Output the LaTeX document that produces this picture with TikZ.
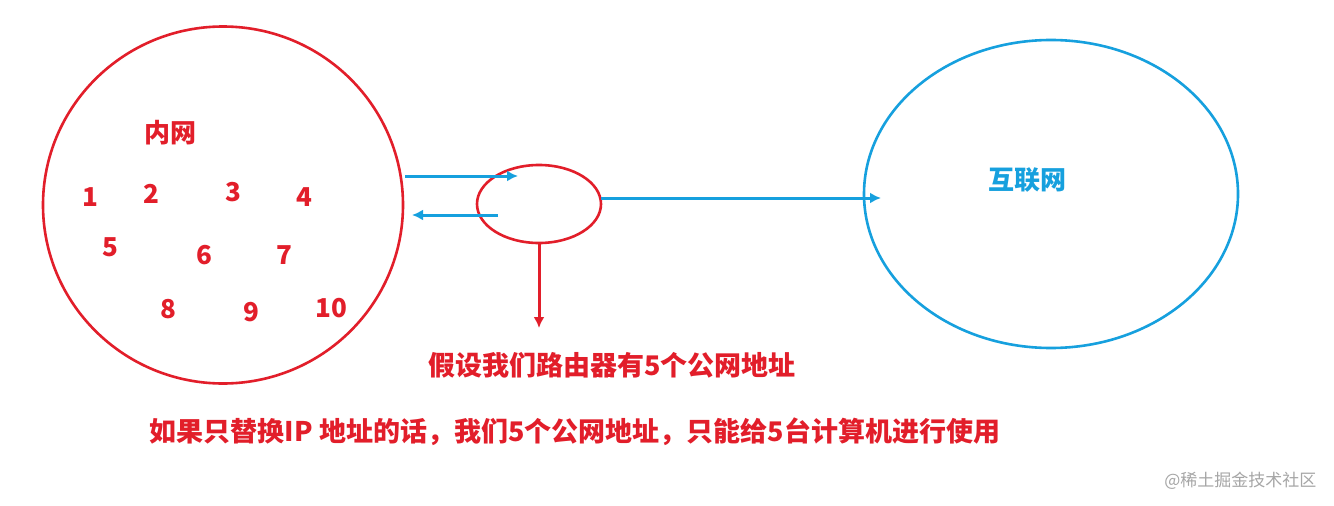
\documentclass[tikz,border=0pt]{standalone}
\usepackage{fontspec}
\setmainfont{Noto Sans CJK SC}
\usepackage{tikz}
\usetikzlibrary{shapes.geometric,arrows.meta}

\definecolor{netred}{RGB}{226,30,42}
\definecolor{netblue}{RGB}{22,160,222}

\tikzset{
  redring/.style={draw=netred, line width=2.6pt, ellipse, inner sep=0pt},
  bluering/.style={draw=netblue, line width=2.6pt, ellipse, inner sep=0pt},
  bluearrow/.style={draw=netblue, line width=3pt, -{Latex[length=11pt,width=11pt]}},
  redarrow/.style={draw=netred, line width=3pt, -{Latex[length=11pt,width=11pt]}},
  num/.style={text=netred, font=\fontsize{26}{30}\selectfont\bfseries},
  note/.style={text=netred, font=\fontsize{27}{32}\selectfont\bfseries},
}

\begin{document}
\begin{tikzpicture}[x=1pt,y=-1pt]
    \useasboundingbox[fill=white] (0,0) rectangle (1334,506);
    % rings
    \node[redring, minimum width=360pt, minimum height=357pt] (lan) at (223,205) {};
    \node[redring, minimum width=124pt, minimum height=78pt] (router) at (539,204) {};
    \node[bluering, minimum width=374pt, minimum height=308pt] (wan) at (1051,194) {};
    % labels inside
    \node[num] (lanlabel) at (170,133) {内网};
    \node[num, text=netblue] (wanlabel) at (1027,180) {互联网};
    \node[num] (pc1) at (90,197) {1};
    \node[num] (pc2) at (151,194) {2};
    \node[num] (pc3) at (233,192) {3};
    \node[num] (pc4) at (304,197) {4};
    \node[num] (pc5) at (110,247) {5};
    \node[num] (pc6) at (204,255) {6};
    \node[num] (pc7) at (284,255) {7};
    \node[num] (pc8) at (168,309) {8};
    \node[num] (pc9) at (251,312) {9};
    \node[num] (pc10) at (331,308) {10};
    % connectors
    \coordinate (goout) at (405,176);
    \coordinate (goin) at (518,176);
    \coordinate (backfrom) at (498,215);
    \coordinate (backto) at (412,215);
    \coordinate (routerright) at (601,198);
    \coordinate (wanleft) at (881,198);
    \coordinate (downtip) at (539,328);
    \draw[bluearrow] (goout) -- (goin);
    \draw[bluearrow] (backfrom) -- (backto);
    \draw[bluearrow] (routerright) -- (wanleft);
    \draw[redarrow] (router.south) -- (downtip);
    % notes
    \node[note] (pool) at (612,365) {假设我们路由器有5个公网地址};
    \node[note] (limit) at (575,432) {如果只替换IP 地址的话，我们5个公网地址，只能给5台计算机进行使用};
    \node[text=black!35, font=\fontsize{17}{20}\selectfont, anchor=east] (mark) at (1320,481) {@稀土掘金技术社区};
\end{tikzpicture}
\end{document}
